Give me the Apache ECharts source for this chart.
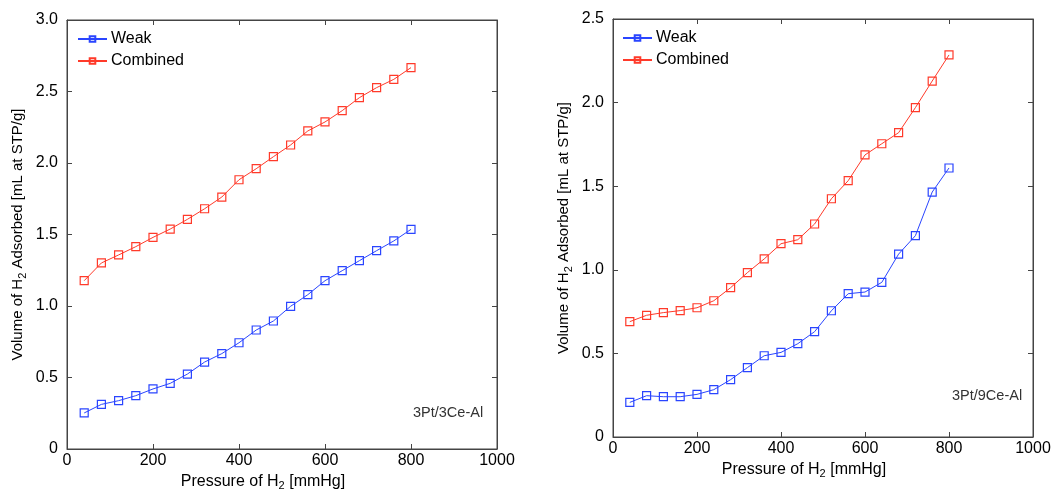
<!DOCTYPE html>
<html><head><meta charset="utf-8">
<script src="https://cdn.jsdelivr.net/npm/echarts@6/dist/echarts.min.js"></script>
<style>html,body{margin:0;padding:0;background:#fff}#c{width:1052px;height:490px}</style>
</head><body><div id="c"></div>
<script>
const pressure = [40,80,120,160,200,240,280,320,360,400,440,480,520,560,600,640,680,720,760,800];
const weak3Ce = [0.252,0.312,0.338,0.373,0.42,0.459,0.524,0.608,0.667,0.743,0.832,0.895,0.998,1.079,1.177,1.247,1.317,1.387,1.455,1.536];
const comb3Ce = [1.177,1.301,1.357,1.415,1.48,1.538,1.606,1.68,1.762,1.883,1.96,2.044,2.126,2.224,2.287,2.366,2.457,2.527,2.585,2.667];
const weak9Ce = [0.207,0.247,0.241,0.241,0.255,0.283,0.343,0.415,0.486,0.506,0.558,0.63,0.755,0.857,0.867,0.925,1.094,1.204,1.465,1.609];
const comb9Ce = [0.69,0.728,0.744,0.756,0.773,0.815,0.893,0.983,1.065,1.156,1.18,1.274,1.425,1.533,1.687,1.754,1.82,1.97,2.129,2.285];
const seriesNames = ['Weak','Combined'];
const panelLabels = ['3Pt/3Ce-Al','3Pt/9Ce-Al'];

const BLUE = '#2a45ff', RED = '#ff3a2a';
const FONT = 'Liberation Sans, Arial, sans-serif';
const pairs = (ys) => pressure.map((x,i)=>[x, ys[i]]);
const fmtY = v => v === 0 ? '0' : v.toFixed(1);
const fmtX = v => String(v);

const grids = [
  {left:67, top:20, width:430, height:429},
  {left:613, top:19, width:420, height:418}
];
const yMax = [3, 2.5];

const xAxes = [], yAxes = [];
grids.forEach((g, gi) => {
  const common = {min:0, max:1000, interval:200, gridIndex:gi, splitLine:{show:false},
    axisLine:{show:true, onZero:false, lineStyle:{color:'#444', width:1}},
    axisTick:{show:true, inside:true, length:5, lineStyle:{color:'#444'}}};
  xAxes.push(Object.assign({}, common, {type:'value', position:'bottom',
    axisLabel:{color:'#000', fontSize:16, fontFamily:FONT, margin:4, formatter:fmtX},
    name:'Pressure of H{s|2} [mmHg]', nameLocation:'middle', nameGap:20,
    nameTextStyle:{color:'#000', fontSize:16, fontFamily:FONT, padding:[0,38,0,0],
      rich:{s:{fontSize:11, fontFamily:FONT, color:'#000', padding:[9,0,0,0]}}}}));
  xAxes.push(Object.assign({}, common, {type:'value', position:'top', axisLabel:{show:false}}));
  const ycommon = {type:'value', min:0, max:yMax[gi], interval:0.5, gridIndex:gi, splitLine:{show:false},
    axisLine:{show:true, onZero:false, lineStyle:{color:'#444', width:1}},
    axisTick:{show:true, inside:true, length:5, lineStyle:{color:'#444'}}};
  yAxes.push(Object.assign({}, ycommon, {position:'left',
    axisLabel:{color:'#000', fontSize:16, fontFamily:FONT, margin:9, formatter:fmtY},
    name:'Volume of H{s|2} Adsorbed [mL at STP/g]', nameLocation:'middle', nameGap:39,
    nameTextStyle:{color:'#000', fontSize:15, fontFamily:FONT,
      rich:{s:{fontSize:11, fontFamily:FONT, color:'#000', padding:[9,0,0,0]}}}}));
  yAxes.push(Object.assign({}, ycommon, {position:'right', axisLabel:{show:false}}));
});

function mk(name, data, color, gi){
  return {type:'line', name, data:pairs(data), xAxisIndex:gi*2, yAxisIndex:gi*2,
    symbol:'rect', symbolSize:8, showSymbol:true,
    lineStyle:{color, width:1}, itemStyle:{color:'rgba(0,0,0,0)', borderColor:color, borderWidth:1.2},
    emphasis:{disabled:true}, animation:false};
}

const series = [
  mk(seriesNames[0], weak3Ce, BLUE, 0), mk(seriesNames[1], comb3Ce, RED, 0),
  mk(seriesNames[0], weak9Ce, BLUE, 1), mk(seriesNames[1], comb9Ce, RED, 1)
];

const legendCommon = {orient:'vertical', itemWidth:29, itemHeight:7, itemGap:6, padding:0,
  textStyle:{color:'#000', fontSize:16, fontFamily:FONT, padding:[0,0,0,-1]}, data:seriesNames, selectedMode:false};

const chart = echarts.init(document.getElementById('c'), null, {renderer:'canvas'});
chart.setOption({
  animation:false,
  backgroundColor:'#fff',
  grid: grids.map(g => Object.assign({show:true, borderColor:'#444', borderWidth:1, backgroundColor:'transparent',
    containLabel:false, outerBoundsMode:'none'}, g)),
  xAxis: xAxes, yAxis: yAxes,
  legend:[
    Object.assign({}, legendCommon, {left:77, top:31}),
    Object.assign({}, legendCommon, {left:622, top:30})
  ],
  graphic:[
    {type:'text', left:413, top:405, style:{text:panelLabels[0], fill:'#333', fontSize:14.5, fontFamily:FONT}},
    {type:'text', left:952, top:388, style:{text:panelLabels[1], fill:'#333', fontSize:14.5, fontFamily:FONT}}
  ],
  series
});
</script></body></html>
